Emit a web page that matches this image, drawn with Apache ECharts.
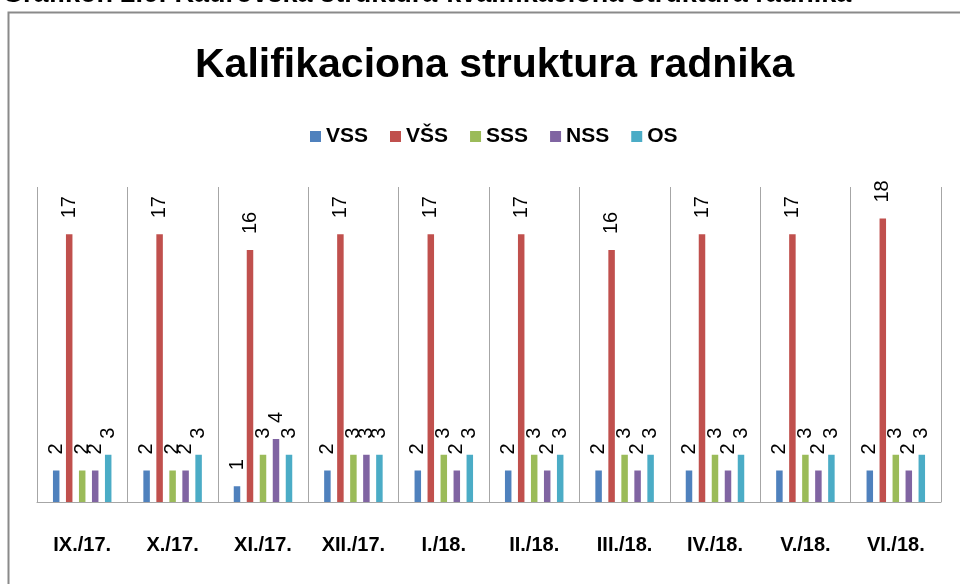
<!DOCTYPE html>
<html>
<head>
<meta charset="utf-8">
<script src="https://cdn.jsdelivr.net/npm/echarts@6/dist/echarts.min.js"></script>
<style>
    html, body { margin: 0; padding: 0; background: #fff; }
    #chart { width: 960px; height: 584px; }
</style>
</head>
<body>
<div id="chart"></div>
<script>
var months = ['IX./17.', 'X./17.', 'XI./17.', 'XII./17.', 'I./18.', 'II./18.', 'III./18.', 'IV./18.', 'V./18.', 'VI./18.'];
var vss = [2, 2, 1, 2, 2, 2, 2, 2, 2, 2];
var vs = [17, 17, 16, 17, 17, 17, 16, 17, 17, 18];
var sss = [2, 2, 3, 3, 3, 3, 3, 3, 3, 3];
var nss = [2, 2, 4, 3, 2, 2, 2, 2, 2, 2];
var os = [3, 3, 3, 3, 3, 3, 3, 3, 3, 3];

var names = ['VSS', 'VŠS', 'SSS', 'NSS', 'OS'];
var colors = ['#4F81BD', '#C0504D', '#9BBB59', '#8064A2', '#4BACC6'];
var values = [vss, vs, sss, nss, os];

var chart = echarts.init(document.getElementById('chart'));

function makeSeries(i) {
    return {
        name: names[i],
        type: 'bar',
        data: values[i],
        barWidth: 6.5,
        barGap: '100%',
        itemStyle: {color: colors[i]},
        label: {
            show: true,
            position: 'top',
            rotate: 90,
            align: 'left',
            verticalAlign: 'middle',
            distance: 16,
            color: '#000',
            fontSize: 20,
            fontFamily: 'Liberation Sans'
        }
    };
}

var option = {
    animation: false,
    title: {
        text: 'Kalifikaciona struktura radnika',
        left: 190,
        top: 40,
        textStyle: {
            fontSize: 41,
            fontWeight: 'bold',
            fontFamily: 'Liberation Sans',
            color: '#000'
        }
    },
    graphic: [
        {
            type: 'text',
            x: 2,
            y: 8,
            style: {
                text: 'Grafikon 2.6: Kadrovska struktura-kvalifikaciona struktura radnika',
                font: 'bold 27px Liberation Sans',
                fill: '#000',
                verticalAlign: 'bottom'
            }
        },
        {
            type: 'rect',
            shape: {x: 8.5, y: 12.5, width: 1000, height: 1000},
            style: {fill: 'none', stroke: '#8a8a8a', lineWidth: 2}
        }
    ],
    legend: {
        data: names,
        top: 121,
        left: 305,
        itemWidth: 11,
        itemHeight: 11,
        itemGap: 22,
        icon: 'rect',
        textStyle: {fontSize: 21, fontFamily: 'Liberation Sans', color: '#000', fontWeight: 'bold'}
    },
    grid: {
        left: 37,
        right: 19,
        top: 187,
        bottom: 82
    },
    xAxis: {
        type: 'category',
        data: months,
        axisLine: {lineStyle: {color: '#a6a6a6'}},
        axisTick: {show: false},
        splitLine: {show: true, interval: 0, lineStyle: {color: '#a6a6a6'}},
        axisLabel: {
            interval: 0,
            margin: 33,
            fontSize: 20,
            fontWeight: 'bold',
            color: '#000',
            fontFamily: 'Liberation Sans'
        }
    },
    yAxis: {
        type: 'value',
        min: 0,
        max: 20,
        show: false
    },
    series: [0, 1, 2, 3, 4].map(makeSeries)
};
chart.setOption(option);
</script>
</body>
</html>
